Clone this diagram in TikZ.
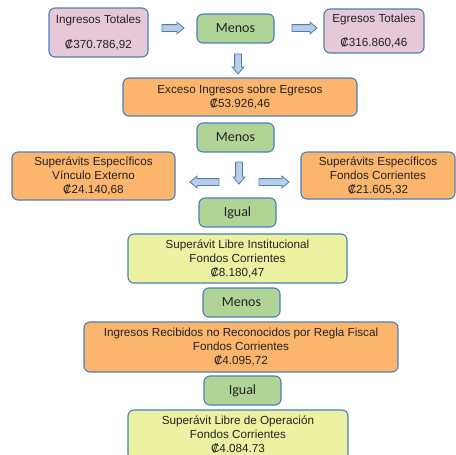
\documentclass[tikz,border=0pt]{standalone}
\usepackage{fontspec}
\setmainfont{Liberation Sans}
\newfontfamily\calibrifont{Carlito}
\usetikzlibrary{shapes.arrows}

\definecolor{boxBorder}{RGB}{74,126,187}
\definecolor{pinkFill}{RGB}{230,200,214}
\definecolor{greenFill}{RGB}{176,212,150}
\definecolor{orangeFill}{RGB}{252,181,108}
\definecolor{yellowFill}{RGB}{236,242,162}
\definecolor{arrowFill}{RGB}{185,205,229}
\definecolor{textGray}{RGB}{35,35,35}

\newcommand{\crc}{₡}

\begin{document}
\begin{tikzpicture}[x=1pt, y=-1pt,
    % --- Styles ---
    amountBox/.style={
      draw=boxBorder,
      line width=1.1pt,
      rounded corners=6pt,
      inner sep=0pt,
      align=center,
      text=textGray,
      font=\fontsize{11.7}{14}\selectfont
    },
    totalBox/.style={amountBox, fill=pinkFill},
    surplusBox/.style={amountBox, fill=orangeFill},
    resultBox/.style={amountBox, fill=yellowFill},
    opBox/.style={
      amountBox,
      fill=greenFill,
      minimum width=77pt,
      minimum height=29pt,
      font=\calibrifont\fontsize{14}{16}\selectfont
    },
    blockArrow/.style={
      single arrow,
      draw=boxBorder,
      fill=arrowFill,
      line width=0.8pt,
      inner sep=3pt,
      single arrow head extend=2.5pt,
      single arrow tip angle=80
    }
]
\clip (0,0) rectangle (456,455);

%=====================
% Row 1: totals
%=====================
\node[totalBox, minimum width=99pt, minimum height=49pt] (ingTot) at (98.5,32.5)
  {Ingresos Totales\\[11pt]\crc370.786,92};
\node[opBox] (menosA) at (235.5,28.5) {Menos};
\node[totalBox, minimum width=100pt, minimum height=44pt] (egrTot) at (374,31)
  {Egresos Totales\\[10pt]\crc316.860,46};
\node[blockArrow, minimum height=22pt] (arrA) at (171,28) {};
\node[blockArrow, minimum height=25pt] (arrB) at (302.5,28) {};
\node[blockArrow, minimum height=20pt, shape border rotate=270] (arrC) at (238,62) {};

%=====================
% Row 2: excess
%=====================
\node[surplusBox, minimum width=234pt, minimum height=38pt] (exceso) at (240,97)
  {Exceso Ingresos sobre Egresos\\\crc53.926,46};
\node[opBox] (menosB) at (235.5,137.5) {Menos};

%=====================
% Row 3: specific surpluses
%=====================
\node[surplusBox, minimum width=163pt, minimum height=48pt] (supVE) at (93.5,176)
  {Superávits Específicos\\Vínculo Externo\\\crc24.140,68};
\node[surplusBox, minimum width=154pt, minimum height=47pt] (supFC) at (378,175.5)
  {Superávits Específicos\\Fondos Corrientes\\\crc21.605,32};
\node[blockArrow, minimum height=22pt, shape border rotate=270] (arrD) at (239,171) {};
\node[blockArrow, minimum height=29pt, shape border rotate=180] (arrE) at (206.5,182) {};
\node[blockArrow, minimum height=30pt] (arrF) at (272,182) {};
\node[opBox] (igualA) at (237.5,212.5) {Igual};

%=====================
% Row 4: free surplus
%=====================
\node[resultBox, minimum width=219pt, minimum height=49pt] (libreInst) at (237.5,258.5)
  {Superávit Libre Institucional\\Fondos Corrientes\\\crc8.180,47};
\node[opBox] (menosC) at (241.5,302.5) {Menos};
\node[surplusBox, minimum width=314pt, minimum height=50pt] (ingRec) at (241,347)
  {Ingresos Recibidos no Reconocidos por Regla Fiscal\\Fondos Corrientes\\\crc4.095,72};
\node[opBox] (igualB) at (242.5,390.5) {Igual};
\node[resultBox, minimum width=220pt, minimum height=50pt] (libreOp) at (238,435)
  {Superávit Libre de Operación\\Fondos Corrientes\\\crc4.084.73};

\end{tikzpicture}
\end{document}
